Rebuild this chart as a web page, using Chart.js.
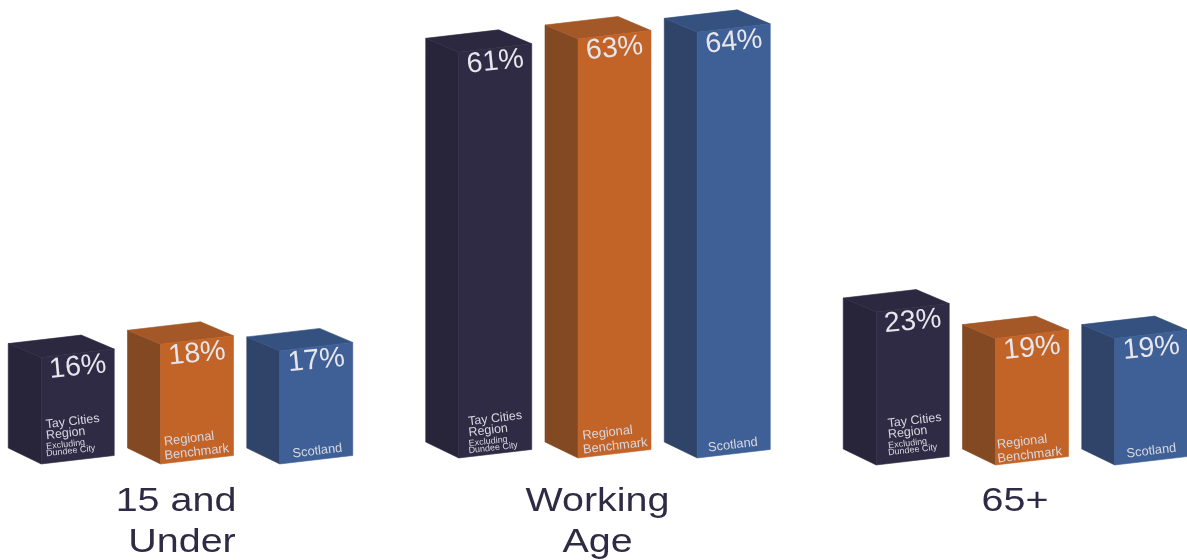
<!DOCTYPE html>
<html>
<head>
<meta charset="utf-8">
<title>Population by age group</title>
<style>
  html, body { margin: 0; padding: 0; background: #ffffff; }
  canvas { display: block; }
</style>
<script src="https://cdn.jsdelivr.net/npm/chart.js@4/dist/chart.umd.min.js"></script>
</head>
<body>
<canvas id="ageChart" width="1187" height="560"></canvas>
<script>
// Share of population in each age band, in percent
const categories = ['15 and Under', 'Working Age', '65+'];
const tayCities = [16, 61, 23];
const regionalBenchmark = [18, 63, 19];
const scotland = [17, 64, 19];

// Wording drawn under each group and on the face of each box
const categoryLines = [['15 and', 'Under'], ['Working', 'Age'], ['65+']];
const seriesNames = ['Tay Cities Region Excluding Dundee City', 'Regional Benchmark', 'Scotland'];

const FONT = '"Liberation Sans", Arial, sans-serif';

// Box drawing parameters
const box = {
  rise: 8.5,            // how far the front face climbs from left to right
  depthX: 33,           // horizontal reach of the side face
  depthTop: 14,         // vertical reach of the side face at the top
  depthBottom: 16,      // vertical reach of the side face at the bottom
  groupLift: [0, 6, -1],
  labelDrop: 14
};
const tilt = Math.atan2(-box.rise, 73);
const valueTilt = -5.5 * Math.PI / 180;

const palette = [
  { front: '#2f2b45', side: '#28253b', top: '#2b2840' },
  { front: '#c26428', side: '#824922', top: '#a45828' },
  { front: '#3f6096', side: '#2f4468', top: '#355180' }
];

// Caption placement on the front face: [text, size, dx, dy] from the lower-left corner
const faceCaptions = [
  [['Tay Cities', 12.5, 9, -35], ['Region', 12.5, 8, -24], ['Excluding', 9, 7, -14], ['Dundee City', 9, 6, -7]],
  [['Regional', 12.8, 6, -18], ['Benchmark', 12.8, 5, -4]],
  [['Scotland', 12.8, 14, -5]]
];
// Per-group fine placement of the captions: [dx, dy] by series, then by group
const captionNudge = [
  [[0, 0], [5, 3], [7, -2]],
  [[0, 0], [1, 0], [-2, 2]],
  [[0, 0], [-2, 0], [-1, -1]]
];

// Horizontal placement and stretch of the group captions
const captionShift = [[-21, -15], [-17, -17], [-17]];
const captionBaselines = [511, 552];
const captionStretch = 1.16;

function polygon(ctx, pts, fill) {
  ctx.beginPath();
  pts.forEach((p, i) => (i ? ctx.lineTo(p[0], p[1]) : ctx.moveTo(p[0], p[1])));
  ctx.closePath();
  ctx.fillStyle = fill;
  ctx.strokeStyle = fill;
  ctx.lineWidth = 0.6;
  ctx.fill();
  ctx.stroke();
}

const boxPlugin = {
  id: 'boxes',
  // Each bar element is repainted as a box with side and top faces
  beforeDatasetDraw(chart, args) {
    const ctx = chart.ctx;
    const colours = palette[args.index];
    const meta = chart.getDatasetMeta(args.index);
    const data = chart.data.datasets[args.index].data;
    meta.data.forEach((bar, i) => {
      const { x, y, base, width } = bar.getProps(['x', 'y', 'base', 'width']);
      const lift = box.groupLift[i];
      const l = x - width / 2, r = x + width / 2;
      const top = y - lift, bottom = base - lift;

      const fl = [l, bottom], ft = [l, top];
      const rt = [r, top - box.rise], rb = [r, bottom - box.rise];
      const bl = [l - box.depthX, bottom - box.depthBottom];
      const tl = [l - box.depthX, top - box.depthTop];
      const bk = [r - box.depthX, top - box.rise - box.depthTop];

      polygon(ctx, [tl, bl, fl, ft], colours.side);
      polygon(ctx, [tl, bk, rt, ft], colours.top);
      polygon(ctx, [ft, rt, rb, fl], colours.front);

      // Percentage near the top of the front face
      ctx.save();
      ctx.translate(x, top - box.rise / 2 + box.labelDrop);
      ctx.rotate(valueTilt);
      ctx.font = '28.5px ' + FONT;
      ctx.fillStyle = '#e6e6ec';
      ctx.textAlign = 'center';
      ctx.textBaseline = 'middle';
      ctx.fillText(data[i] + '%', 0, 0);
      ctx.restore();

      // Series caption along the bottom of the front face
      const [nudgeX, nudgeY] = captionNudge[args.index][i];
      ctx.save();
      ctx.translate(l + nudgeX, bottom + nudgeY);
      ctx.rotate(tilt);
      ctx.fillStyle = '#d8d8e0';
      ctx.textAlign = 'left';
      ctx.textBaseline = 'alphabetic';
      faceCaptions[args.index].forEach(([text, size, dx, dy]) => {
        ctx.font = size + 'px ' + FONT;
        ctx.fillText(text, dx, dy);
      });
      ctx.restore();
    });
    return false;
  },
  afterDatasetsDraw(chart) {
    const ctx = chart.ctx;
    const xScale = chart.scales.x;
    categoryLines.forEach((lines, i) => {
      const cx = xScale.getPixelForValue(i);
      lines.forEach((line, n) => {
        ctx.save();
        ctx.translate(cx + captionShift[i][n], captionBaselines[n]);
        ctx.scale(captionStretch, 1);
        ctx.font = '34px ' + FONT;
        ctx.fillStyle = '#2f2b45';
        ctx.textAlign = 'center';
        ctx.textBaseline = 'alphabetic';
        ctx.fillText(line, 0, 0);
        ctx.restore();
      });
    });
  }
};

new Chart(document.getElementById('ageChart'), {
  type: 'bar',
  data: {
    labels: categories,
    datasets: [
      { label: seriesNames[0], data: tayCities, backgroundColor: palette[0].front },
      { label: seriesNames[1], data: regionalBenchmark, backgroundColor: palette[1].front },
      { label: seriesNames[2], data: scotland, backgroundColor: palette[2].front }
    ]
  },
  options: {
    responsive: false,
    animation: false,
    layout: { padding: { left: 197, right: 155, top: 0, bottom: 0 } },
    datasets: { bar: { categoryPercentage: 0.857, barPercentage: 0.612 } },
    plugins: { legend: { display: false }, tooltip: { enabled: false } },
    scales: {
      x: { display: false, offset: false },
      y: { display: false, min: -14.44, max: 69.77 }
    }
  },
  plugins: [boxPlugin]
});
</script>
</body>
</html>
